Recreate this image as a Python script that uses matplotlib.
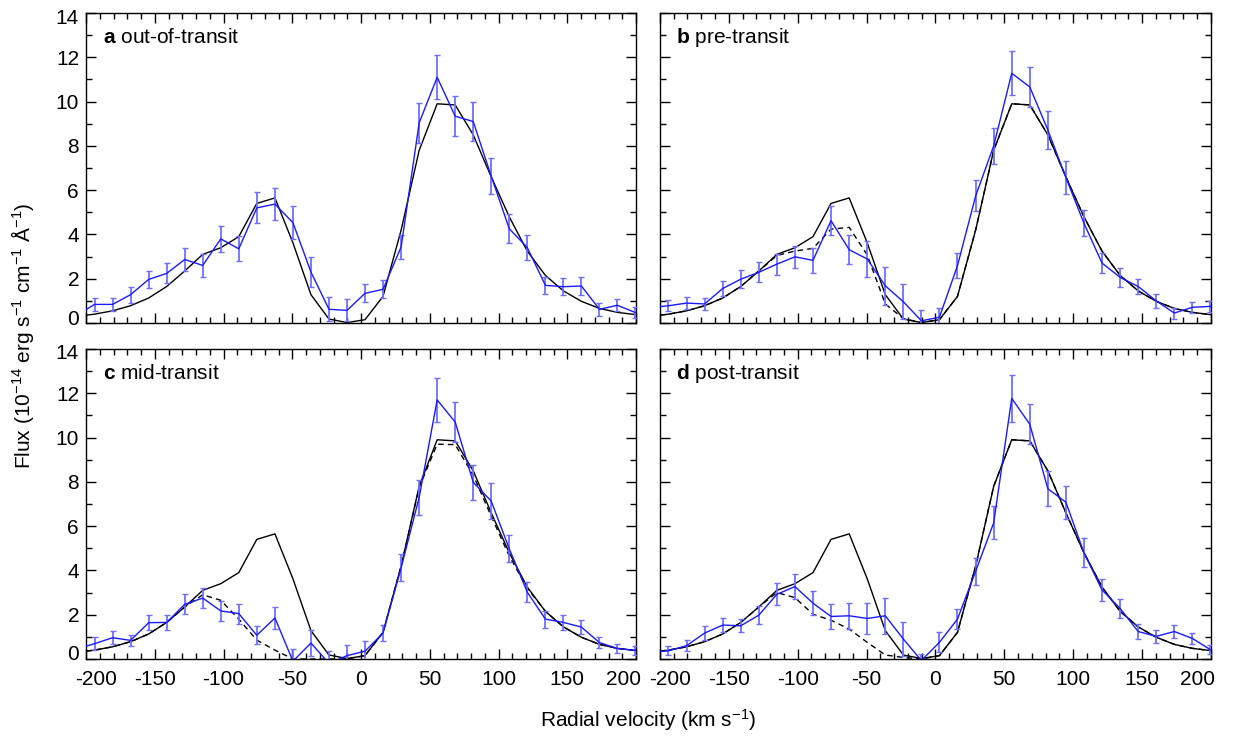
import matplotlib

matplotlib.use("Agg")

import matplotlib.pyplot as plt
import matplotlib.transforms as mtransforms
from matplotlib.ticker import MultipleLocator

plt.rcParams["font.family"] = ["Liberation Sans", "DejaVu Sans"]
plt.rcParams["mathtext.fontset"] = "custom"
plt.rcParams["mathtext.rm"] = "Liberation Sans"
plt.rcParams["mathtext.bf"] = "Liberation Sans:bold"
plt.rcParams["mathtext.it"] = "Liberation Sans:italic"
plt.rcParams["axes.unicode_minus"] = False

# radial velocity grid (km/s)
vel = [-206.9, -193.8, -180.7, -167.6, -154.4, -141.3, -128.2, -115.1, -102.0, -88.9,
       -75.8, -62.6, -49.5, -36.4, -23.3, -10.2, 2.9, 16.0, 29.2, 42.3, 55.4, 68.5,
       81.6, 94.7, 107.8, 120.9, 134.1, 147.2, 160.3, 173.4, 186.5, 199.6]

# out-of-transit model (solid black, same in every panel)
model = [0.3, 0.4, 0.55, 0.78, 1.13, 1.65, 2.35, 3.1, 3.4, 3.9, 5.4, 5.65, 3.62, 1.28,
         0.18, 0.02, 0.15, 1.2, 4.2, 7.8, 9.9, 9.85, 8.5, 6.6, 4.8, 3.25, 2.15, 1.45,
         0.98, 0.66, 0.48, 0.38]

a_flux = [0.35, 0.84, 0.84, 1.28, 1.97, 2.24, 2.87, 2.6, 3.8, 3.35, 5.2, 5.37, 4.53, 2.3,
          0.62, 0.57, 1.34, 1.52, 3.44, 9.04, 11.1, 9.34, 9.1, 6.63, 4.26, 3.41, 1.7, 1.64,
          1.67, 0.62, 0.8, 0.47]
a_err = [0.28, 0.28, 0.28, 0.36, 0.4, 0.45, 0.5, 0.5, 0.6, 0.57, 0.7, 0.73, 0.75, 0.68,
         0.55, 0.5, 0.4, 0.4, 0.55, 0.9, 1.0, 0.9, 0.88, 0.8, 0.65, 0.55, 0.4, 0.38, 0.4,
         0.3, 0.28, 0.25]

b_flux = [0.7, 0.78, 0.9, 0.86, 1.56, 1.98, 2.29, 2.66, 2.99, 2.83, 4.62, 3.31, 2.89, 1.68,
          0.96, 0.1, 0.26, 2.59, 5.74, 8.0, 11.28, 10.66, 8.72, 6.57, 4.51, 2.71, 2.06,
          1.65, 1.0, 0.45, 0.71, 0.75]
b_err = [0.25, 0.25, 0.28, 0.25, 0.35, 0.4, 0.45, 0.47, 0.5, 0.55, 0.65, 0.65, 0.8, 0.85,
         0.8, 0.5, 0.4, 0.55, 0.7, 0.8, 1.0, 0.9, 0.85, 0.75, 0.6, 0.45, 0.42, 0.35, 0.3,
         0.25, 0.25, 0.25]
b_dash = [0.3, 0.4, 0.55, 0.78, 1.13, 1.65, 2.35, 3.05, 3.25, 3.37, 4.24, 4.32, 3.07, 0.86,
          0.2, 0.02, 0.15, 1.2, 4.2, 7.8, 9.9, 9.85, 8.5, 6.6, 4.8, 3.25, 2.15, 1.45, 0.98,
          0.66, 0.48, 0.38]

c_flux = [0.45, 0.69, 0.96, 0.84, 1.64, 1.65, 2.47, 2.75, 2.17, 2.05, 1.07, 1.85, -0.1,
          0.72, -0.2, 0.15, 0.35, 1.17, 4.12, 7.3, 11.7, 10.7, 7.98, 7.13, 4.98, 3.02, 1.8,
          1.65, 1.44, 0.74, 0.47, 0.39]
c_err = [0.28, 0.28, 0.3, 0.25, 0.35, 0.35, 0.45, 0.45, 0.45, 0.45, 0.4, 0.5, 0.55, 0.6,
         0.55, 0.5, 0.45, 0.35, 0.6, 0.8, 1.0, 0.9, 0.8, 0.8, 0.6, 0.45, 0.38, 0.35, 0.33,
         0.25, 0.2, 0.2]
c_dash = [0.3, 0.4, 0.55, 0.78, 1.13, 1.65, 2.35, 2.9, 2.65, 1.8, 0.85, 0.4, 0.0, 0.0, 0.0,
          0.0, 0.15, 1.2, 4.2, 7.75, 9.7, 9.68, 8.3, 6.45, 4.65, 3.2, 2.15, 1.45, 0.98,
          0.66, 0.48, 0.38]

d_flux = [0.3, 0.37, 0.6, 1.17, 1.53, 1.5, 1.98, 2.92, 3.27, 2.52, 1.92, 1.95, 1.83, 1.95,
          0.9, -0.07, 0.75, 1.8, 3.96, 6.15, 11.77, 10.6, 7.69, 7.08, 4.8, 3.12, 2.28, 1.24,
          1.02, 1.24, 0.93, 0.42]
d_err = [0.2, 0.2, 0.25, 0.3, 0.3, 0.3, 0.4, 0.5, 0.55, 0.55, 0.55, 0.6, 0.7, 0.8, 0.75,
         0.3, 0.45, 0.45, 0.6, 0.75, 1.05, 0.9, 0.8, 0.75, 0.65, 0.5, 0.45, 0.33, 0.28, 0.3,
         0.25, 0.2]
d_dash = [0.3, 0.4, 0.55, 0.78, 1.13, 1.65, 2.35, 3.0, 2.77, 2.02, 1.75, 1.35, 0.75, 0.18,
          0.07, 0.0, 0.15, 1.2, 4.2, 7.8, 9.9, 9.85, 8.5, 6.6, 4.8, 3.25, 2.15, 1.45, 0.98,
          0.66, 0.48, 0.38]

panels = [
    ("a", "out-of-transit", a_flux, a_err, None),
    ("b", "pre-transit", b_flux, b_err, b_dash),
    ("c", "mid-transit", c_flux, c_err, c_dash),
    ("d", "post-transit", d_flux, d_err, d_dash),
]

BLUE = "#1a1aff"
ERR_BLUE = "#6f6fff"

fig = plt.figure(figsize=(12.34, 7.40), dpi=100)
positions = [
    [0.0697, 0.5635, 0.4457, 0.4189],
    [0.5348, 0.5635, 0.4465, 0.4189],
    [0.0697, 0.1095, 0.4457, 0.4189],
    [0.5348, 0.1095, 0.4465, 0.4189],
]

for i, (letter, name, flux, err, dash) in enumerate(panels):
    ax = fig.add_axes(positions[i])
    ax.plot(vel, model, color="black", lw=1.0, zorder=2)
    if dash is not None:
        ax.plot(vel, dash, color="black", lw=1.0, ls=(0, (4, 3)), zorder=2)
    ax.errorbar(vel, flux, yerr=err, fmt="none", ecolor=ERR_BLUE, elinewidth=1.3,
                capsize=2.5, capthick=1.0, zorder=3)
    ax.plot(vel, flux, color=BLUE, lw=1.0, zorder=4)

    ax.set_xlim(-200, 200)
    ax.set_ylim(0, 14)
    ax.set_xticks([-200, -150, -100, -50, 0, 50, 100, 150, 200])
    ax.set_yticks([0, 2, 4, 6, 8, 10, 12, 14])
    ax.xaxis.set_minor_locator(MultipleLocator(10))
    ax.yaxis.set_minor_locator(MultipleLocator(1))
    ax.tick_params(which="both", direction="in", top=True, right=True, width=1.0,
                   labelsize=15, color="black")
    ax.tick_params(which="major", length=7)
    ax.tick_params(which="minor", length=4)
    ax.tick_params(axis="x", pad=8)
    ax.tick_params(axis="y", pad=5)
    for s in ax.spines.values():
        s.set_linewidth(1.0)

    if i % 2 == 1:
        ax.tick_params(axis="y", labelleft=False)
    else:
        ylabs = ax.get_yticklabels()
        ylabs[0].set_transform(ylabs[0].get_transform() +
                               mtransforms.ScaledTranslation(0, 6 / 100, fig.dpi_scale_trans))
        ylabs[-1].set_transform(ylabs[-1].get_transform() +
                                mtransforms.ScaledTranslation(0, -3 / 100, fig.dpi_scale_trans))
    if i < 2:
        ax.tick_params(axis="x", labelbottom=False)
    else:
        xlabs = ax.get_xticklabels()
        xlabs[0].set_transform(xlabs[0].get_transform() +
                               mtransforms.ScaledTranslation(10 / 100, 0, fig.dpi_scale_trans))
        xlabs[-1].set_transform(xlabs[-1].get_transform() +
                                mtransforms.ScaledTranslation(-13 / 100, 0, fig.dpi_scale_trans))

    ax.text(0.03, 0.922, r"$\mathbf{" + letter + "}$ " + name, transform=ax.transAxes,
            fontsize=15, va="center", ha="left")

fig.text(0.018, 0.546, r"Flux (10$^{-14}$ erg s$^{-1}$ cm$^{-1}$ Å$^{-1}$)",
         rotation=90, va="center", ha="center", fontsize=15)
fig.text(0.525, 0.027, r"Radial velocity (km s$^{-1}$)", va="center", ha="center",
         fontsize=15)

fig.savefig("out.png", dpi=100)
